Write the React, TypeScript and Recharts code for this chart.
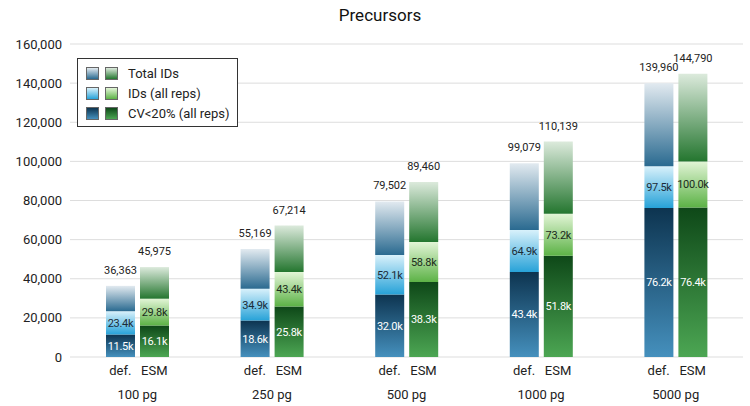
import { BarChart, Bar, XAxis, YAxis, CartesianGrid, LabelList } from 'recharts';

const groups = ['100 pg', '250 pg', '500 pg', '1000 pg', '5000 pg'];
const defTotal = [36363, 55169, 79502, 99079, 139960];
const defAllReps = [23400, 34900, 52100, 64900, 97500];
const defCv = [11500, 18600, 32000, 43400, 76200];
const esmTotal = [45975, 67214, 89460, 110139, 144790];
const esmAllReps = [29800, 43400, 58800, 73200, 100000];
const esmCv = [16100, 25800, 38300, 51800, 76400];
const yTicks = [0, 20000, 40000, 60000, 80000, 100000, 120000, 140000, 160000];

const data = groups.map((g, i) => ({
  group: g,
  defCv: defCv[i],
  defMid: defAllReps[i] - defCv[i],
  defTop: defTotal[i] - defAllReps[i],
  defAll: defAllReps[i],
  defTotal: defTotal[i],
  esmCv: esmCv[i],
  esmMid: esmAllReps[i] - esmCv[i],
  esmTop: esmTotal[i] - esmAllReps[i],
  esmAll: esmAllReps[i],
  esmTotal: esmTotal[i],
}));

const grads: Record<string, [string, string]> = {
  bTop: ['#e2eaf0', '#2a6a90'],
  bMid: ['#d8f1fb', '#27a2d8'],
  bCv: ['#0d3450', '#4590bd'],
  gTop: ['#dceadc', '#24762f'],
  gMid: ['#e2f5d6', '#5cb246'],
  gCv: ['#0e4818', '#4ca653'],
};

const FONT = 'Roboto, sans-serif';
const fmtK = (v: number) => (v / 1000).toFixed(1) + 'k';
const fmtN = (v: number) => v.toLocaleString('en-US');

const XTick = ({ x, y, payload }: any) => (
  <g fontFamily={FONT}>
    <text x={x - 17} y={y + 10} textAnchor="middle" fontSize={13} fill="#222">def.</text>
    <text x={x + 17} y={y + 10} textAnchor="middle" fontSize={13} fill="#222">ESM</text>
    <text x={x} y={y + 34} textAnchor="middle" fontSize={13} fill="#222">{payload.value}</text>
  </g>
);

const Swatch = ({ id }: { id: string }) => (
  <span
    style={{
      display: 'inline-block',
      width: 11,
      height: 11,
      marginRight: 6,
      border: '1px solid #666',
      background: `linear-gradient(${grads[id][0]}, ${grads[id][1]})`,
    }}
  />
);

const legendRows = [
  { b: 'bTop', g: 'gTop', label: 'Total IDs' },
  { b: 'bMid', g: 'gMid', label: 'IDs (all reps)' },
  { b: 'bCv', g: 'gCv', label: 'CV<20% (all reps)' },
];

const segLabel = { fontSize: 11, fontFamily: FONT, letterSpacing: -0.3 };

export default function App() {
  return (
    <div
      style={{
        position: 'absolute',
        top: 0,
        left: 0,
        width: 750,
        height: 406,
        overflow: 'hidden',
        background: '#fff',
        fontFamily: FONT,
      }}
    >
      <div
        style={{
          position: 'absolute',
          top: 5,
          left: 0,
          width: 750,
          paddingLeft: 10,
          boxSizing: 'border-box',
          textAlign: 'center',
          fontSize: 17,
          color: '#111',
        }}
      >
        Precursors
      </div>
      <BarChart
        width={750}
        height={406}
        data={data}
        margin={{ top: 44, right: 7, bottom: 0, left: 8 }}
        barSize={29}
        barGap={5}
      >
        <defs>
          {Object.entries(grads).map(([id, [c1, c2]]) => (
            <linearGradient key={id} id={id} x1="0" y1="0" x2="0" y2="1">
              <stop offset="0%" stopColor={c1} />
              <stop offset="100%" stopColor={c2} />
            </linearGradient>
          ))}
        </defs>
        <CartesianGrid vertical={false} stroke="#dddddd" />
        <XAxis dataKey="group" axisLine={false} tickLine={false} tick={<XTick />} interval={0} height={49} />
        <YAxis
          domain={[0, 160000]}
          ticks={yTicks}
          axisLine={false}
          tickLine={false}
          width={62}
          tickFormatter={fmtN}
          tick={{ fontSize: 13, fill: '#222', fontFamily: FONT }}
        />
        <Bar dataKey="defCv" stackId="def" fill="url(#bCv)" isAnimationActive={false}>
          <LabelList dataKey="defCv" position="center" formatter={fmtK} fill="#fff" {...segLabel} />
        </Bar>
        <Bar dataKey="defMid" stackId="def" fill="url(#bMid)" isAnimationActive={false}>
          <LabelList dataKey="defAll" position="center" formatter={fmtK} fill="#1b2b38" {...segLabel} />
        </Bar>
        <Bar dataKey="defTop" stackId="def" fill="url(#bTop)" isAnimationActive={false}>
          <LabelList dataKey="defTotal" position="top" offset={12} formatter={fmtN} fill="#222" fontSize={11} fontFamily={FONT} />
        </Bar>
        <Bar dataKey="esmCv" stackId="esm" fill="url(#gCv)" isAnimationActive={false}>
          <LabelList dataKey="esmCv" position="center" formatter={fmtK} fill="#fff" {...segLabel} />
        </Bar>
        <Bar dataKey="esmMid" stackId="esm" fill="url(#gMid)" isAnimationActive={false}>
          <LabelList dataKey="esmAll" position="center" formatter={fmtK} fill="#1b2b1b" {...segLabel} />
        </Bar>
        <Bar dataKey="esmTop" stackId="esm" fill="url(#gTop)" isAnimationActive={false}>
          <LabelList dataKey="esmTotal" position="top" offset={12} formatter={fmtN} fill="#222" fontSize={11} fontFamily={FONT} />
        </Bar>
      </BarChart>
      <div
        style={{
          position: 'absolute',
          left: 77,
          top: 58,
          width: 161,
          height: 69,
          border: '1px solid #333',
          background: '#fff',
          boxSizing: 'border-box',
          padding: '4px 0 0 8px',
          fontSize: 13,
          color: '#222',
        }}
      >
        {legendRows.map((r) => (
          <div key={r.label} style={{ display: 'flex', alignItems: 'center', height: 20 }}>
            <Swatch id={r.b} />
            <Swatch id={r.g} />
            <span style={{ marginLeft: 4 }}>{r.label}</span>
          </div>
        ))}
      </div>
    </div>
  );
}
